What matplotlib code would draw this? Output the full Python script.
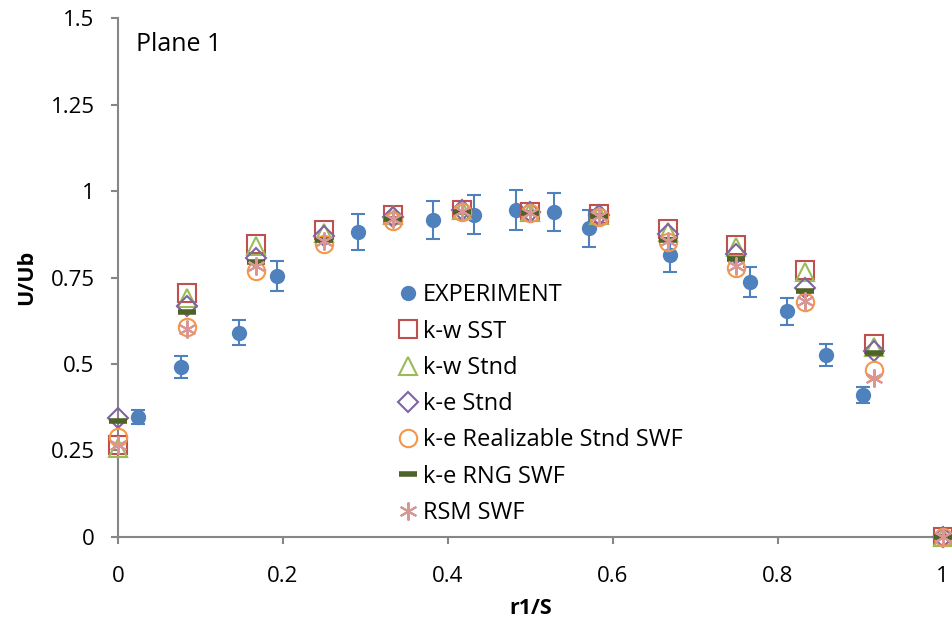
import numpy as np
import matplotlib
matplotlib.use("Agg")
import matplotlib.pyplot as plt
from matplotlib.lines import Line2D

plt.rcParams['font.family'] = ['Open Sans', 'DejaVu Sans']

# experiment data
exp_x = [0.024, 0.076, 0.146, 0.193, 0.291, 0.382, 0.432, 0.482, 0.529, 0.571,
         0.670, 0.767, 0.811, 0.859, 0.903]
exp_y = [0.348, 0.492, 0.591, 0.754, 0.883, 0.916, 0.932, 0.946, 0.940, 0.892,
         0.815, 0.738, 0.652, 0.527, 0.411]
exp_err = [0.020, 0.031, 0.036, 0.044, 0.052, 0.055, 0.056, 0.057, 0.056, 0.054,
           0.048, 0.044, 0.038, 0.032, 0.024]

# CFD positions
cfd_x = [0, 1/12, 2/12, 3/12, 4/12, 5/12, 6/12, 7/12, 8/12, 9/12, 10/12, 11/12, 1]

kw_sst = [0.265, 0.704, 0.846, 0.889, 0.932, 0.946, 0.941, 0.934, 0.891, 0.844, 0.773, 0.558, 0.0]
kw_stnd = [0.258, 0.690, 0.840, 0.880, 0.930, 0.946, 0.940, 0.932, 0.882, 0.838, 0.765, 0.548, 0.0]
ke_stnd = [0.345, 0.668, 0.806, 0.870, 0.925, 0.944, 0.939, 0.930, 0.876, 0.817, 0.721, 0.538, 0.0]
ke_real = [0.288, 0.608, 0.769, 0.846, 0.915, 0.940, 0.936, 0.926, 0.853, 0.779, 0.678, 0.484, 0.0]
ke_rng = [0.335, 0.651, 0.796, 0.860, 0.920, 0.940, 0.938, 0.928, 0.860, 0.803, 0.710, 0.531, 0.0]
rsm = [0.265, 0.600, 0.784, 0.856, 0.920, 0.942, 0.938, 0.928, 0.855, 0.784, 0.683, 0.460, 0.0]

fig = plt.figure(figsize=(9.53, 6.28), dpi=100)
ax = fig.add_axes([0.124, 0.145, 0.865, 0.826])

ax.errorbar(exp_x, exp_y, yerr=exp_err, fmt='o', color='#4F81BD', ecolor='#4F81BD',
            markersize=10, elinewidth=1.5, capsize=5, capthick=1.5, zorder=5)
h0 = Line2D([], [], ls='none', marker='o', ms=10, color='#4F81BD')
kw = dict(ls='none', clip_on=False, zorder=6)
h1, = ax.plot(cfd_x, kw_sst, 's', ms=13, mfc='none', mec='#C0504D', mew=1.5, **kw)
h2, = ax.plot(cfd_x, kw_stnd, '^', ms=13.5, mfc='none', mec='#9BBB59', mew=1.5, **kw)
h3, = ax.plot(cfd_x, ke_stnd, 'D', ms=10, mfc='none', mec='#8064A2', mew=1.5, **kw)
h4, = ax.plot(cfd_x, ke_real, 'o', ms=12.5, mfc='none', mec='#F79646', mew=1.5, **kw)
h5, = ax.plot(cfd_x, ke_rng, '_', ms=13, mec='#4F6228', mew=4, **kw)
h6, = ax.plot(cfd_x, rsm, marker=(6, 2, 0), ms=13, mec='#D99694', mew=1.5, **kw)

ax.set_xlim(0, 1)
ax.set_ylim(0, 1.5)
ax.set_xticks([0, 0.2, 0.4, 0.6, 0.8, 1])
ax.set_xticklabels(['0', '0.2', '0.4', '0.6', '0.8', '1'])
ax.set_yticks([0, 0.25, 0.5, 0.75, 1, 1.25, 1.5])
ax.set_yticklabels(['0', '0.25', '0.5', '0.75', '1', '1.25', '1.5'])
ax.tick_params(labelsize=16, color='#868686', length=5, width=1.5)
ax.tick_params(axis='y', pad=12)
ax.tick_params(axis='x', pad=16)
for s in ['top', 'right']:
    ax.spines[s].set_visible(False)
for s in ['left', 'bottom']:
    ax.spines[s].set_color('#868686')
    ax.spines[s].set_linewidth(1.5)

ax.set_xlabel('r1/S', fontsize=15.5, fontweight='bold', labelpad=8)
ax.set_ylabel('U/Ub', fontsize=15.5, fontweight='bold', labelpad=10)
ax.text(0.022, 0.974, 'Plane 1', transform=ax.transAxes, fontsize=18, va='top')

leg = ax.legend([h0, h1, h2, h3, h4, h5, h6],
                ['EXPERIMENT', 'k-w SST', 'k-w Stnd', 'k-e Stnd',
                 'k-e Realizable Stnd SWF', 'k-e RNG SWF', 'RSM SWF'],
                loc='upper left', bbox_to_anchor=(0.337, 0.489), frameon=False,
                fontsize=17, handlelength=1.0, handletextpad=0.15, labelspacing=0.52,
                borderaxespad=0, borderpad=0)

fig.savefig('out.png', dpi=100)
